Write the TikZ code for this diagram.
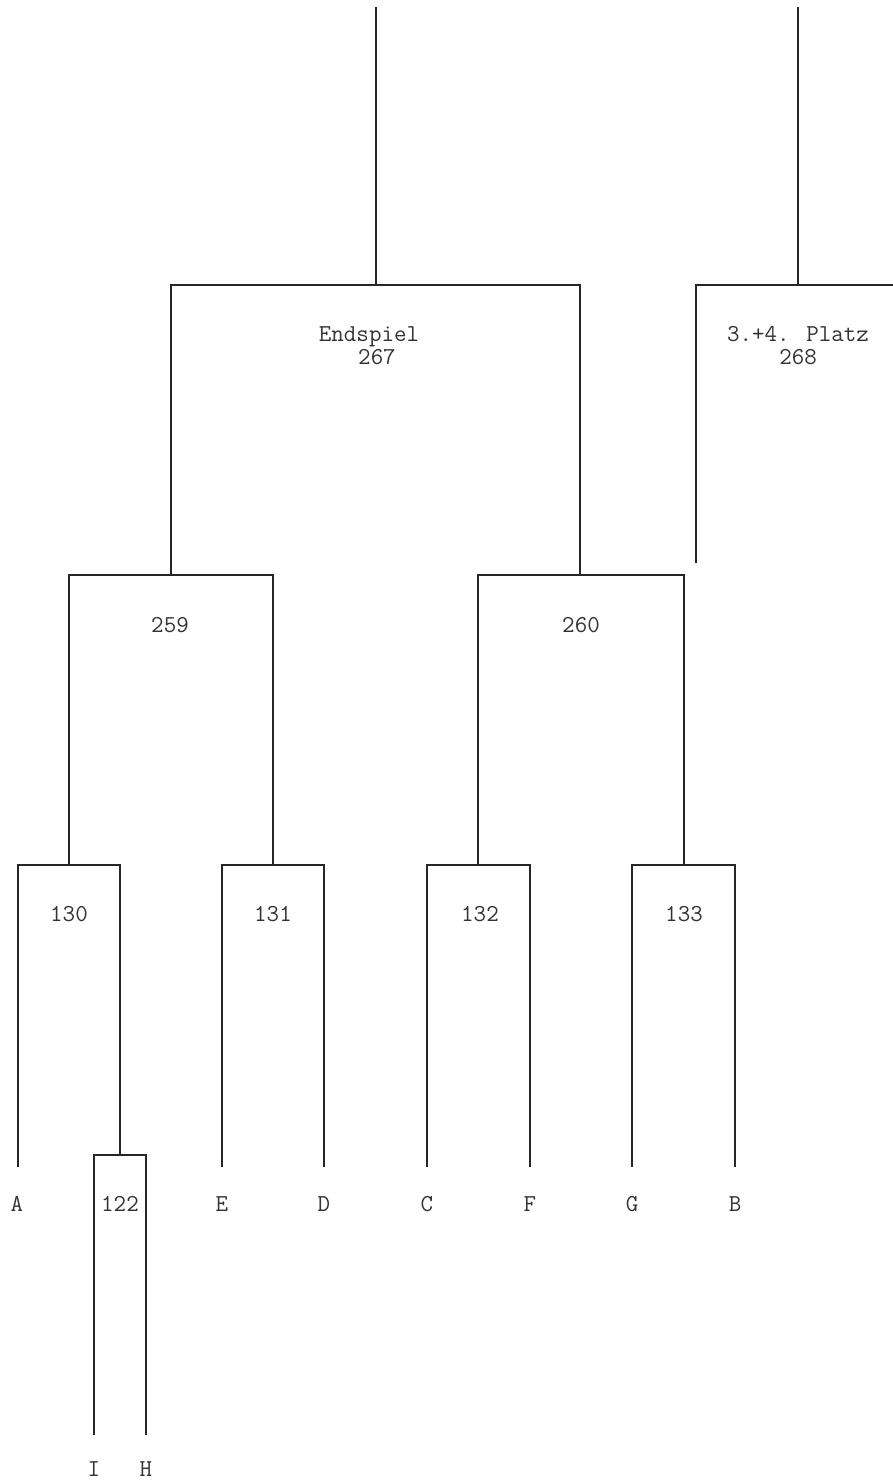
\documentclass[tikz,border=0pt]{standalone}
\begin{document}
\begin{tikzpicture}[x=1pt,y=-1pt,
  br/.style={draw=black!85, line width=1.5pt},
  lbl/.style={font=\ttfamily\fontsize{24.3}{27}\selectfont, text=black!80, inner sep=0pt, anchor=base}]
\useasboundingbox (0,0) rectangle (893,1483);
% joints
\coordinate (t267) at (376,7);
\coordinate (j267) at (376,285);
\coordinate (t268) at (798,7);
\coordinate (j268) at (798,285);
\coordinate (l268) at (696,563);
\coordinate (r268) at (893,285);
\coordinate (j259) at (171,575);
\coordinate (j260) at (580,575);
\coordinate (j130) at (69,865);
\coordinate (j131) at (273,865);
\coordinate (j132) at (478,865);
\coordinate (j133) at (684,865);
\coordinate (j122) at (120,1155);
% leaves
\coordinate (eA) at (18,1167);
\coordinate (eE) at (222,1167);
\coordinate (eD) at (324,1167);
\coordinate (eC) at (427,1167);
\coordinate (eF) at (530,1167);
\coordinate (eG) at (632,1167);
\coordinate (eB) at (735,1167);
\coordinate (eI) at (94,1435);
\coordinate (eH) at (146,1435);
% brackets
\draw[br] (t267) -- (j267);
\draw[br] (j259) |- (j267) -| (j260);
\draw[br] (t268) -- (j268);
\draw[br] (l268) |- (j268) -- (r268);
\draw[br] (j130) |- (j259) -| (j131);
\draw[br] (j132) |- (j260) -| (j133);
\draw[br] (eA) |- (j130) -| (j122);
\draw[br] (eE) |- (j131) -| (eD);
\draw[br] (eC) |- (j132) -| (eF);
\draw[br] (eG) |- (j133) -| (eB);
\draw[br] (eI) |- (j122) -| (eH);
% match labels
\node[lbl] (n267a) at (369,341) {Endspiel};
\node[lbl] (n267b) at (377,364) {267};
\node[lbl] (n268a) at (798,341) {3.+4. Platz};
\node[lbl] (n268b) at (798,364) {268};
\node[lbl] (n259) at (170,632) {259};
\node[lbl] (n260) at (581,632) {260};
\node[lbl] (n130) at (69,921) {130};
\node[lbl] (n131) at (273,921) {131};
\node[lbl] (n132) at (480,921) {132};
\node[lbl] (n133) at (684,921) {133};
\node[lbl] (n122) at (120,1211) {122};
% team labels
\node[lbl] (A) at (17,1211) {A};
\node[lbl] (E) at (222,1211) {E};
\node[lbl] (D) at (324,1211) {D};
\node[lbl] (C) at (427,1211) {C};
\node[lbl] (F) at (530,1211) {F};
\node[lbl] (G) at (632,1211) {G};
\node[lbl] (B) at (735,1211) {B};
\node[lbl] (I) at (94,1476) {I};
\node[lbl] (H) at (146,1476) {H};
\end{tikzpicture}
\end{document}
